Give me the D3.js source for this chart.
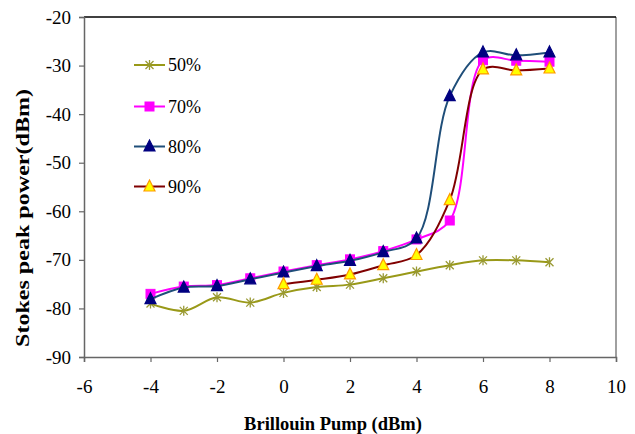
<!DOCTYPE html>
<html><head><meta charset="utf-8">
<script src="https://cdn.jsdelivr.net/npm/d3@7"></script>
<style>body{margin:0;background:#fff}svg{display:block}</style>
</head><body><svg id="c" width="635" height="434"></svg>
<script>
const xs = [-4,-3,-2,-1,0,1,2,3,4,5,6,7,8];
const xs90 = [0,1,2,3,4,5,6,7,8];
const s50 = [-79.0,-80.5,-77.7,-78.8,-76.8,-75.6,-75.1,-73.8,-72.4,-71.1,-70.1,-70.1,-70.5];
const s70 = [-77.0,-75.5,-75.2,-73.8,-72.4,-71.1,-69.9,-68.2,-65.8,-61.9,-28.9,-29.0,-29.2];
const s80 = [-78.1,-75.7,-75.4,-74.0,-72.6,-71.3,-70.2,-68.4,-65.6,-36.3,-27.3,-27.9,-27.3];
const s90 = [-75.0,-74.1,-73.0,-71.1,-69.0,-57.7,-30.8,-31.0,-30.6];
const seriesNames = ["50%","70%","80%","90%"];
const xTicks = [-6,-4,-2,0,2,4,6,8,10];
const yTicks = [-90,-80,-70,-60,-50,-40,-30,-20];

const FONT = "'Liberation Serif', Tinos, 'Times New Roman', serif";
const svg = d3.select("#c");
const L=84,R=616,T=17,B=357;
const x = d3.scaleLinear().domain([-6,10]).range([L,R]);
const y = d3.scaleLinear().domain([-90,-20]).range([B,T]);

svg.append("line").attr("x1",R).attr("x2",R).attr("y1",T).attr("y2",B).attr("stroke","#808080").attr("stroke-width",1.5);
svg.append("line").attr("x1",L).attr("x2",R).attr("y1",T).attr("y2",T).attr("stroke","#000").attr("stroke-width",1.5);

const xAxis = svg.append("g").attr("transform",`translate(0,${B})`)
  .call(d3.axisBottom(x).tickValues(xTicks).tickSize(5).tickPadding(18).tickFormat(d3.format("d")));
const yAxis = svg.append("g").attr("transform",`translate(${L},0)`)
  .call(d3.axisLeft(y).tickValues(yTicks).tickSize(5).tickPadding(8).tickFormat(d3.format("d")));
[xAxis,yAxis].forEach(g=>{
  g.attr("font-family",FONT).attr("font-size",19);
  g.select(".domain").attr("stroke","#666").attr("stroke-width",1.5);
  g.selectAll(".tick line").attr("stroke","#666").attr("stroke-width",1.2);
  g.selectAll("text").attr("fill","#000").text(d=>String(d).replace("−","-"));
});

svg.append("text").attr("x",333).attr("y",430).attr("text-anchor","middle")
  .attr("font-family",FONT).attr("font-size",18.5).attr("font-weight","bold").text("Brillouin Pump (dBm)");
svg.append("text").attr("transform","translate(29,218) rotate(-90)").attr("text-anchor","middle")
  .attr("font-family",FONT).attr("font-size",18.5).attr("font-weight","bold")
  .attr("textLength",258).attr("lengthAdjust","spacingAndGlyphs").text("Stokes peak power(dBm)");

const series = [
  {name:seriesNames[0],xv:xs,yv:s50,line:"#999918",marker:"star",fill:"none",mstroke:"#999933"},
  {name:seriesNames[1],xv:xs,yv:s70,line:"#ff00ff",marker:"square",fill:"#ff00ff",mstroke:"#ff00ff"},
  {name:seriesNames[2],xv:xs,yv:s80,line:"#1f4e79",marker:"tri",fill:"#000080",mstroke:"#000080"},
  {name:seriesNames[3],xv:xs90,yv:s90,line:"#800000",marker:"tri",fill:"#ffff00",mstroke:"#ff9900"}
];
const lineGen = d3.line().x(d=>x(d[0])).y(d=>y(d[1])).curve(d3.curveCatmullRom);

function drawMarker(g,type,cx,cy,s){
  if(type==="star"){
    const r=5;
    g.append("path").attr("d",`M${cx},${cy-r}L${cx},${cy+r}M${cx-r*0.8},${cy-r*0.8}L${cx+r*0.8},${cy+r*0.8}M${cx-r*0.8},${cy+r*0.8}L${cx+r*0.8},${cy-r*0.8}`)
     .attr("stroke",s.mstroke).attr("stroke-width",1.3).attr("fill","none");
  } else if(type==="square"){
    g.append("rect").attr("x",cx-4.5).attr("y",cy-4.5).attr("width",9).attr("height",9)
     .attr("fill",s.fill).attr("stroke",s.mstroke).attr("stroke-width",1);
  } else {
    const h=5.5;
    g.append("path").attr("d",`M${cx},${cy-h-1}L${cx+h},${cy+h-1}L${cx-h},${cy+h-1}Z`)
     .attr("fill",s.fill).attr("stroke",s.mstroke).attr("stroke-width",1.2);
  }
}

series.forEach(s=>{
  const pts = s.xv.map((v,i)=>[v,s.yv[i]]);
  const g = svg.append("g");
  g.append("path").datum(pts).attr("d",lineGen).attr("fill","none").attr("stroke",s.line).attr("stroke-width",2);
  pts.forEach(p=>drawMarker(g,s.marker,x(p[0]),y(p[1]),s));
});

const legY = [65,106.5,146.5,186.5];
series.forEach((s,i)=>{
  const g = svg.append("g");
  g.append("line").attr("x1",134).attr("x2",165).attr("y1",legY[i]).attr("y2",legY[i]).attr("stroke",s.line).attr("stroke-width",2);
  drawMarker(g,s.marker,149.5,legY[i],s);
  g.append("text").attr("x",168).attr("y",legY[i]+6).attr("font-family",FONT).attr("font-size",18).text(s.name);
});
</script></body></html>
